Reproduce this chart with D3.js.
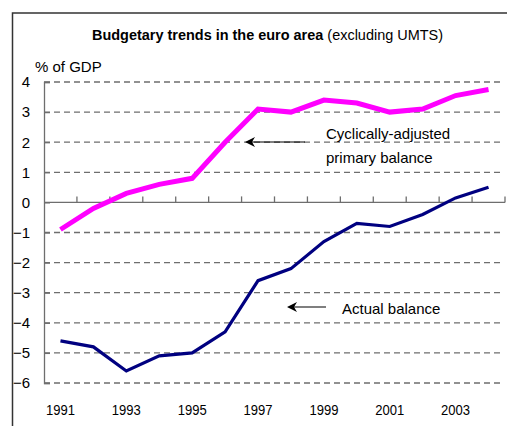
<!DOCTYPE html>
<html>
<head>
<meta charset="utf-8">
<script src="https://cdn.jsdelivr.net/npm/d3@7"></script>
<style>
  body { margin: 0; background: #fff; }
  svg text { font-family: "Liberation Sans Narrow", "Arial Narrow", "Liberation Sans", Arial, sans-serif; fill: #000; }
</style>
</head>
<body>
<div id="chart"></div>
<script>
// data (% of GDP)
var years = [1991, 1992, 1993, 1994, 1995, 1996, 1997, 1998, 1999, 2000, 2001, 2002, 2003, 2004];
var primaryBalance = [-0.9, -0.2, 0.3, 0.6, 0.8, 2.0, 3.1, 3.0, 3.4, 3.3, 3.0, 3.1, 3.55, 3.75];
var actualBalance = [-4.6, -4.8, -5.6, -5.1, -5.0, -4.3, -2.6, -2.2, -1.3, -0.7, -0.8, -0.4, 0.15, 0.5];
var yTicks = [4, 3, 2, 1, 0, -1, -2, -3, -4, -5, -6];
var xLabels = [1991, 1993, 1995, 1997, 1999, 2001, 2003];

var width = 507, height = 426;
var svg = d3.select("#chart").append("svg")
  .attr("width", width)
  .attr("height", height);

// outer frame
svg.append("rect")
  .attr("x", 12.5).attr("y", 13)
  .attr("width", 500).attr("height", 430)
  .attr("fill", "none")
  .attr("stroke", "#333")
  .attr("stroke-width", 1.5);

var x = d3.scaleBand().domain(years).range([44, 505]).padding(0);
var y = d3.scaleLinear().domain([-6, 4]).range([383, 82]);
var cx = function(yr) { return x(yr) + x.bandwidth() / 2; };

// title
var title = svg.append("text")
  .attr("x", 92).attr("y", 40)
  .attr("textLength", 351)
  .attr("lengthAdjust", "spacingAndGlyphs")
  .style("font-size", "15px");
title.append("tspan").attr("font-weight", "bold").text("Budgetary trends in the euro area ");
title.append("tspan").text("(excluding UMTS)");

svg.append("text")
  .attr("x", 35).attr("y", 72)
  .style("font-size", "15px")
  .text("% of GDP");

// dashed grid
svg.append("g").selectAll("line")
  .data(yTicks.filter(function(d) { return d !== 0; }))
  .enter().append("line")
  .attr("x1", 44).attr("x2", 500)
  .attr("y1", function(d) { return y(d); })
  .attr("y2", function(d) { return y(d); })
  .attr("stroke", "#6e6e6e")
  .attr("stroke-width", 1.3)
  .attr("stroke-dasharray", "6,4");

// y axis
var yAxis = svg.append("g")
  .attr("transform", "translate(44,0)")
  .call(d3.axisLeft(y).tickValues(yTicks).tickSize(-6).tickPadding(14).tickFormat(d3.format("d")));
yAxis.select(".domain").attr("stroke", "#6e6e6e").attr("stroke-width", 1.3);
yAxis.selectAll(".tick line").attr("stroke", "#6e6e6e").attr("stroke-width", 1.3);
yAxis.selectAll("text").style("font-size", "15px").attr("fill", "#000");

// x axis at zero, ticks between years pointing up
var xAxis = svg.append("g");
xAxis.append("line")
  .attr("x1", 44).attr("x2", 505)
  .attr("y1", y(0)).attr("y2", y(0))
  .attr("stroke", "#6e6e6e").attr("stroke-width", 1.3);
xAxis.selectAll(".xt")
  .data(years)
  .enter().append("line")
  .attr("class", "xt")
  .attr("x1", function(d) { return x(d) + x.bandwidth(); })
  .attr("x2", function(d) { return x(d) + x.bandwidth(); })
  .attr("y1", y(0)).attr("y2", y(0) - 6)
  .attr("stroke", "#6e6e6e").attr("stroke-width", 1.3);

svg.append("g").selectAll("text")
  .data(xLabels)
  .enter().append("text")
  .attr("x", function(d) { return cx(d) - 14.5; })
  .attr("y", 415)
  .attr("textLength", 29)
  .attr("lengthAdjust", "spacingAndGlyphs")
  .style("font-size", "15px")
  .text(function(d) { return d; });

// lines
var line = function(vals) {
  return d3.line()
    .x(function(d, i) { return cx(years[i]); })
    .y(function(d) { return y(d); })(vals);
};

svg.append("path")
  .attr("d", line(primaryBalance))
  .attr("fill", "none")
  .attr("stroke", "#ff00ff")
  .attr("stroke-width", 5);

svg.append("path")
  .attr("d", line(actualBalance))
  .attr("fill", "none")
  .attr("stroke", "#000080")
  .attr("stroke-width", 3.2);

// annotation arrows
svg.append("line")
  .attr("x1", 305).attr("x2", 247)
  .attr("y1", 142).attr("y2", 142)
  .attr("stroke", "#000").attr("stroke-width", 1.2);
svg.append("path")
  .attr("d", "M245,142 L255,137 L252,142 L255,147 Z")
  .attr("fill", "#000");

svg.append("line")
  .attr("x1", 326).attr("x2", 289)
  .attr("y1", 307).attr("y2", 307)
  .attr("stroke", "#000").attr("stroke-width", 1.2);
svg.append("path")
  .attr("d", "M287,307 L297,302 L294,307 L297,312 Z")
  .attr("fill", "#000");

svg.append("text")
  .attr("x", 326).attr("y", 139)
  .style("font-size", "15px")
  .text("Cyclically-adjusted");
svg.append("text")
  .attr("x", 326).attr("y", 163)
  .style("font-size", "15px")
  .text("primary balance");
svg.append("text")
  .attr("x", 342).attr("y", 314)
  .style("font-size", "15px")
  .text("Actual balance");
</script>
</body>
</html>
